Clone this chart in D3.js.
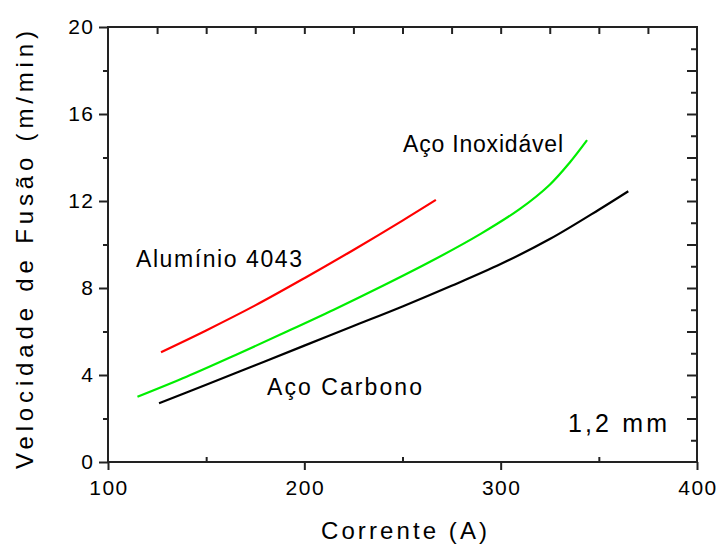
<!DOCTYPE html>
<html>
<head>
<meta charset="utf-8">
<script src="https://cdn.jsdelivr.net/npm/d3@7"></script>
<style>
  body { margin: 0; background: #fff; }
  text { font-family: Arial, "Liberation Sans", sans-serif; fill: #000; }
</style>
</head>
<body>
<div id="chart"></div>
<script>
// curves: corrente (A) vs velocidade de fusao (m/min)
var aluCorrente = [127, 150, 175, 200, 225, 250, 267];
var aluVeloc    = [5.05, 6.05, 7.2, 8.45, 9.75, 11.1, 12.05];
var inoxCorrente = [115, 140, 165, 190, 215, 240, 265, 290, 310, 325, 335, 344];
var inoxVeloc    = [3.0, 3.92, 4.92, 5.95, 7.0, 8.1, 9.25, 10.5, 11.65, 12.75, 13.75, 14.8];
var carbCorrente = [126, 150, 175, 200, 225, 250, 275, 300, 325, 350, 365];
var carbVeloc    = [2.7, 3.55, 4.45, 5.35, 6.25, 7.15, 8.1, 9.1, 10.25, 11.6, 12.45];

var xTicks = [100, 200, 300, 400];
var yTicks = [0, 4, 8, 12, 16, 20];

// set the dimensions and margins of the graph
var margin = {top: 27, right: 21, bottom: 83, left: 108},
    width = 718 - margin.left - margin.right,
    height = 545 - margin.top - margin.bottom;

var svg = d3.select("#chart")
            .append("svg")
            .attr("width", 718)
            .attr("height", 545)
            .append("g")
            .attr("transform", "translate(" + margin.left + "," + margin.top + ")");

var x = d3.scaleLinear().domain([100, 400]).range([0, width]);
var y = d3.scaleLinear().domain([0, 20]).range([height, 0]);

function styleAxis(g) {
    g.select(".domain").remove();
    g.selectAll("line").attr("stroke", "#222").attr("stroke-width", 2);
    g.selectAll("text").style("font-size", "21px").style("letter-spacing", "1.5px").attr("fill", "#000");
}

// bottom axis: big ticks outward, small ones inward
svg.append("g")
    .attr("transform", "translate(0," + height + ")")
    .call(d3.axisBottom(x).tickValues(xTicks).tickSize(8).tickPadding(10).tickFormat(d3.format("d")))
    .call(styleAxis)
    .selectAll("text").attr("dx", "0.5px");
svg.append("g")
    .attr("transform", "translate(0," + height + ")")
    .call(d3.axisBottom(x).tickValues([150, 250, 350]).tickSize(-5).tickFormat(""))
    .call(styleAxis);

// top axis: every 25 A, inward
svg.append("g")
    .call(d3.axisTop(x).tickValues(d3.range(125, 400, 25)).tickSize(-7).tickFormat(""))
    .call(styleAxis);

// left axis
svg.append("g")
    .call(d3.axisLeft(y).tickValues(yTicks).tickSize(9).tickPadding(6).tickFormat(d3.format("d")))
    .call(styleAxis)
    .selectAll("text").attr("dx", "1.5px");
svg.append("g")
    .call(d3.axisLeft(y).tickValues([2, 6, 10, 14, 18]).tickSize(5).tickFormat(""))
    .call(styleAxis);

// right axis, inward, long on even values
svg.append("g")
    .attr("transform", "translate(" + width + ",0)")
    .call(d3.axisRight(y).tickValues(d3.range(2, 20, 2)).tickSize(-10).tickFormat(""))
    .call(styleAxis);
svg.append("g")
    .attr("transform", "translate(" + width + ",0)")
    .call(d3.axisRight(y).tickValues(d3.range(1, 20, 2)).tickSize(-6).tickFormat(""))
    .call(styleAxis);

// frame
svg.append("rect")
    .attr("width", width)
    .attr("height", height)
    .attr("fill", "none")
    .attr("stroke", "#222")
    .attr("stroke-width", 2);

// curves
var line = d3.line()
    .x(function(d) { return x(d[0]); })
    .y(function(d) { return y(d[1]); })
    .curve(d3.curveCatmullRom.alpha(0.5));

var series = [
    {xs: aluCorrente, ys: aluVeloc, color: "#ff0000"},
    {xs: inoxCorrente, ys: inoxVeloc, color: "#00ee00"},
    {xs: carbCorrente, ys: carbVeloc, color: "#000000"}
];
series.forEach(function(s) {
    svg.append("path")
        .datum(d3.zip(s.xs, s.ys))
        .attr("fill", "none")
        .attr("stroke", s.color)
        .attr("stroke-width", 2.2)
        .attr("d", line);
});

// labels (page coords), stretched to the widths seen in the picture
var root = d3.select("#chart svg");
function label(txt, px, py, len, size) {
    root.append("text")
        .attr("x", px).attr("y", py)
        .attr("textLength", len)
        .attr("lengthAdjust", "spacing")
        .style("font-size", size + "px")
        .text(txt);
}
label("Alumínio 4043", 136, 267, 166, 23);
label("Aço Inoxidável", 403, 152, 160, 23);
label("Aço Carbono", 267, 394.5, 155, 23);
label("1,2 mm", 568, 431.5, 99, 25);
label("Corrente (A)", 321, 539, 166, 24);

// Y-axis title
root.append("text")
    .attr("transform", "translate(33,469) rotate(-90)")
    .attr("textLength", 438)
    .attr("lengthAdjust", "spacing")
    .style("font-size", "24px")
    .text("Velocidade de Fusão (m/min)");
</script>
</body>
</html>
